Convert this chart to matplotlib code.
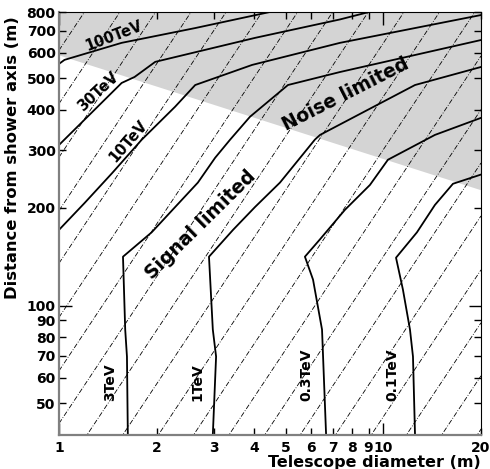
import numpy as np
import matplotlib
matplotlib.use('Agg')
import matplotlib.pyplot as plt

plt.rcParams['font.family'] = ['DejaVu Sans']
plt.rcParams['font.weight'] = 'bold'

# curves: telescope diameter (m) vs. distance from shower axis (m)
d_100 = [1.00, 1.04, 1.56, 2.63, 4.47, 8.0]
r_100 = [554, 570, 643, 714, 800, 905]
d_30 = [1.00, 1.56, 1.71, 1.98, 4.02, 7.35, 12.0]
r_30 = [312, 484, 505, 562, 666, 759, 860]
d_10 = [1.00, 1.20, 1.46, 1.80, 2.28, 2.63, 3.94, 7.35, 20.0]
r_10 = [171, 207, 256, 324, 409, 477, 550, 643, 783]
d_3 = [1.63, 1.62, 1.60, 1.575, 1.93, 2.68, 3.03, 3.37, 3.88, 5.08, 7.35, 20.0]
r_3 = [40, 69.7, 84.4, 141.4, 168, 239, 285, 324, 381, 477, 523, 656]
d_1 = [2.98, 3.05, 2.98, 2.90, 3.44, 4.02, 4.80, 6.15, 6.38, 12.52, 20.0]
r_1 = [40, 69.7, 84.4, 141.4, 171, 201, 239, 324, 335, 477, 542]
d_03 = [6.66, 6.47, 6.07, 5.73, 6.38, 7.61, 9.09, 10.33, 14.42, 20.0]
r_03 = [40, 84.4, 120.2, 141.4, 160, 197, 235, 281, 335, 378]
d_01 = [12.52, 12.34, 12.08, 11.49, 10.94, 12.69, 14.42, 16.39, 20.0]
r_01 = [40, 69.7, 84.4, 112, 140.4, 168, 204, 237, 253]

# noise / signal limited boundary
bound_d = [1.0, 20.0]
bound_r = [590, 227]

# dashed guide lines r ~ D^1.5, value of r at D = 1 m
guide_slope = 1.5
guide_r1 = [610, 418, 286, 196, 135, 92, 63, 43.4, 29.7, 20.3, 13.9, 9.55,
            6.55, 4.48, 3.07, 2.11, 1.44, 0.99, 0.68, 0.466]

fig = plt.figure(figsize=(4.9, 4.69), dpi=100)
ax = fig.add_axes([59/490, 1-435/469, 422/490, 423/469])
ax.set_xscale('log')
ax.set_yscale('log')

ax.fill_between(bound_d, bound_r, [2000, 2000], color='#d4d4d4', lw=0, zorder=0)

dd = np.array([1.0, 20.0])
for r1 in guide_r1:
    ax.plot(dd, r1*dd**guide_slope, color='black', lw=0.6,
            linestyle=(0, (6, 2, 1, 2)), zorder=1)

for d, r in [(d_100, r_100), (d_30, r_30), (d_10, r_10), (d_3, r_3),
             (d_1, r_1), (d_03, r_03), (d_01, r_01)]:
    ax.plot(d, r, color='black', lw=1.3, zorder=2)

ax.set_xlim(1, 20)
ax.set_ylim(40, 800)

xmaj = [1, 10]
xmin = [2, 3, 4, 5, 6, 7, 8, 9, 20]
ymaj = [100]
ymin = [50, 60, 70, 80, 90, 200, 300, 400, 500, 600, 700, 800]
ax.set_xticks(xmaj)
ax.set_xticklabels([str(v) for v in xmaj])
ax.set_xticks(xmin, minor=True)
ax.set_xticklabels([str(v) for v in xmin], minor=True)
ax.set_yticks(ymaj)
ax.set_yticklabels([str(v) for v in ymaj])
ax.set_yticks(ymin, minor=True)
ax.set_yticklabels([str(v) for v in ymin], minor=True)
ax.tick_params(which='both', direction='in', top=True, right=True,
               labelsize=10, width=1)
ax.tick_params(which='major', length=9)
ax.tick_params(which='minor', length=5)
ax.tick_params(axis='x', which='both', pad=4)
ax.tick_params(axis='y', which='both', pad=2.5)
for s in ['left', 'bottom']:
    ax.spines[s].set_color('#808080')
    ax.spines[s].set_linewidth(1.6)

ax.set_xlabel('Telescope diameter (m)', fontsize=11.5, fontweight='bold',
              loc='right', labelpad=0)
ax.set_ylabel('Distance from shower axis (m)', fontsize=11.8,
              fontweight='bold')
ax.yaxis.set_label_coords(-0.092, 0.655)

kw = dict(ha='center', va='center', fontweight='bold', zorder=3)
ax.text(1.477, 675, '100TeV', rotation=21, fontsize=10.5, **kw)
ax.text(1.319, 454, '30TeV', rotation=43, fontsize=10.5, **kw)
ax.text(1.632, 321, '10TeV', rotation=49, fontsize=10.5, **kw)
ax.text(1.44, 58, '3TeV', rotation=90, fontsize=10, **kw)
ax.text(2.68, 58, '1TeV', rotation=90, fontsize=10, **kw)
ax.text(5.78, 61.4, '0.3TeV', rotation=90, fontsize=10, **kw)
ax.text(10.63, 61.4, '0.1TeV', rotation=90, fontsize=10, **kw)
ax.text(2.74, 177, 'Signal limited', rotation=44.5, fontsize=13.5, **kw)
ax.text(7.67, 445, 'Noise limited', rotation=27, fontsize=13.5, **kw)

fig.savefig('out.png', dpi=100)
